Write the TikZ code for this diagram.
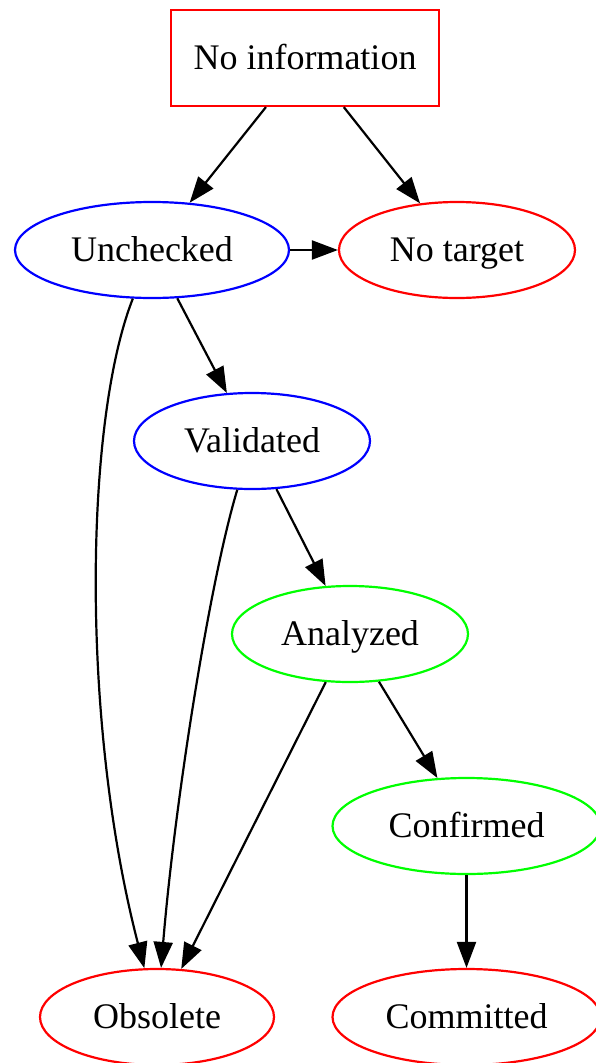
\documentclass[tikz,border=0pt]{standalone}
\usepackage{fontspec}
\setmainfont{Liberation Serif}
\usetikzlibrary{shapes.geometric,arrows.meta}
\definecolor{gvred}{RGB}{255,0,0}
\definecolor{gvblue}{RGB}{0,0,255}
\definecolor{gvgreen}{RGB}{0,255,0}
\begin{document}
\begin{tikzpicture}[x=1pt,y=-1pt,
  every node/.style={font=\fontsize{36}{40}\selectfont, line width=2.2pt, inner sep=0pt, text height=23pt, text depth=0pt},
  ell/.style={ellipse, draw, minimum height=96pt},
  edge/.style={draw=black, line width=2.2pt, -{Triangle[length=26pt,width=19pt]}}]
\useasboundingbox (0,0) rectangle (595,1063);
\node[draw=gvred, rectangle, minimum width=268pt, minimum height=96pt] (ni) at (305,58) {No information};
\node[ell, draw=gvblue, minimum width=274pt] (un) at (152,250) {Unchecked};
\node[ell, draw=gvred, minimum width=236pt] (nt) at (457,250) {No target};
\node[ell, draw=gvblue, minimum width=236pt] (va) at (252,441) {Validated};
\node[ell, draw=gvgreen, minimum width=236pt] (an) at (350,634) {Analyzed};
\node[ell, draw=gvgreen, minimum width=268pt] (co) at (466.5,826) {Confirmed};
\node[ell, draw=gvred, minimum width=234pt] (ob) at (157,1017) {Obsolete};
\node[ell, draw=gvred, minimum width=268pt] (cm) at (466.5,1017) {Committed};
\draw[edge] (ni) -- (un);
\draw[edge] (ni) -- (nt);
\draw[edge] (un) -- (nt);
\draw[edge] (un) -- (va);
\draw[edge] (un) .. controls (85,420) and (80,720) .. (ob);
\draw[edge] (va) .. controls (210,580) and (175,800) .. (ob);
\draw[edge] (va) -- (an);
\draw[edge] (an) -- (ob);
\draw[edge] (an) -- (co);
\draw[edge] (co) -- (cm);
\end{tikzpicture}
\end{document}
